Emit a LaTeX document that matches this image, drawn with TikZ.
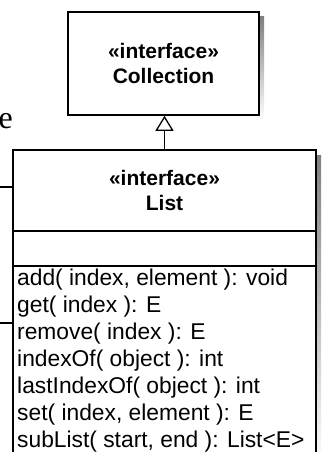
\documentclass[tikz,border=0pt]{standalone}
\usepackage{fontspec}
\setmainfont{Liberation Sans}
\newfontfamily\serife{Liberation Serif}
\usetikzlibrary{arrows.meta}
\definecolor{shade}{RGB}{196,196,196}
\begin{document}
\begin{tikzpicture}[x=1pt,y=-1pt,
  umlbox/.style={draw=black, line width=1.6pt, fill=white, rectangle, inner sep=0pt},
  stereo/.style={font=\bfseries\fontsize{21}{25}\selectfont, align=center},
  method/.style={font=\fontsize{22.8}{27}\selectfont, anchor=base west, inner sep=0pt},
  inherit/.style={-{Triangle[open,length=15pt,width=18pt]}, line width=1.3pt},
  link/.style={line width=1.3pt}]
\useasboundingbox (0,0) rectangle (326,452);
\clip (0,0) rectangle (326,452);
% shadows
\fill[shade] (73,17) rectangle (264,120);
\fill[shade] (18,155) rectangle (321,470);
% Collection
\node[umlbox, minimum width=191pt, minimum height=103pt, stereo] (coll) at (163.5,63.5) {«interface»\\Collection};
% List compartments
\node[umlbox, minimum width=303pt, minimum height=81pt, stereo] (list) at (164.5,190.5) {«interface»\\List};
\node[umlbox, minimum width=303pt, minimum height=35pt] (attrs) at (164.5,248.5) {};
\node[umlbox, minimum width=303pt, minimum height=204pt] (methods) at (164.5,368) {};
% methods
\node[method] (m1) at (17,285) {add( index, element ): void};
\node[method] (m2) at (17,312) {get( index ): E};
\node[method] (m3) at (17,339) {remove( index ): E};
\node[method] (m4) at (17,366) {indexOf( object ): int};
\node[method] (m5) at (17,393) {lastIndexOf( object ): int};
\node[method] (m6) at (17,420) {set( index, element ): E};
\node[method] (m7) at (17,447) {subList( start, end ): List<E>};
% inheritance
\draw[inherit] (list.north) -- (list.north |- coll.south);
% left connectors
\coordinate (l1) at (0,187);
\coordinate (l2) at (0,323);
\draw[link] (l1) -- (l1 -| list.west);
\draw[link] (l2) -- (l2 -| methods.west);
% cropped text fragment
\node[font=\serife\fontsize{32}{32}\selectfont, anchor=base east, inner sep=0pt] (frag) at (13,128) {e};
\end{tikzpicture}
\end{document}
